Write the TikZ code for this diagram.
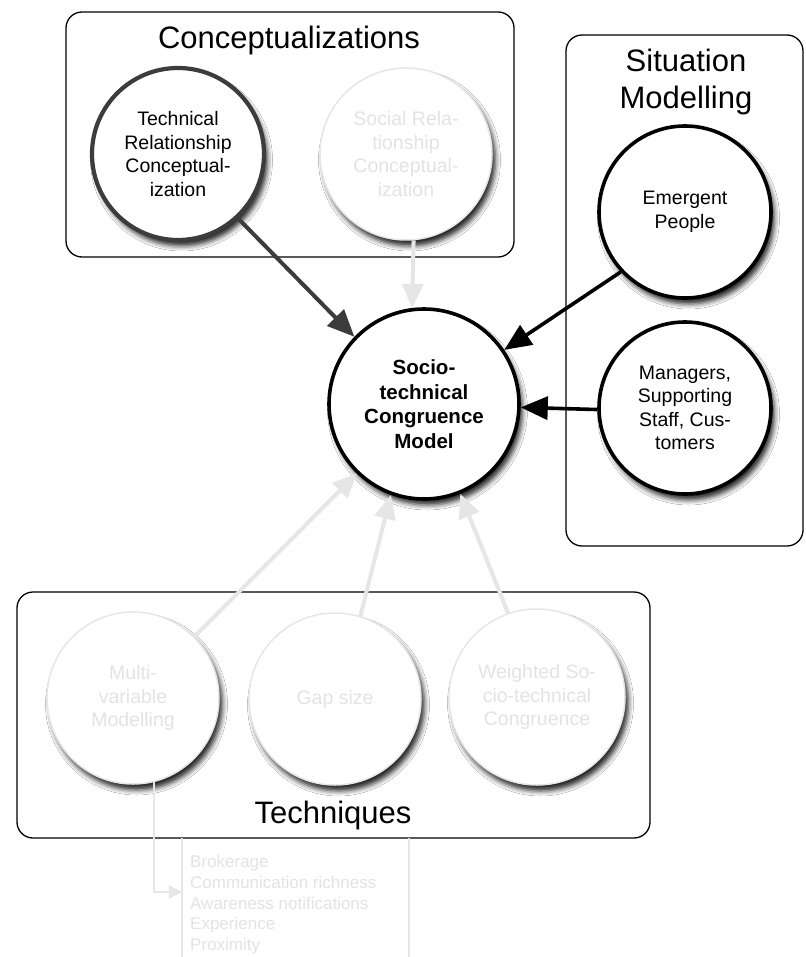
\documentclass[tikz,border=0pt]{standalone}
\usepackage{fontspec}
\setmainfont{Liberation Sans}
\usetikzlibrary{arrows.meta,shadows.blur}
\definecolor{faint}{HTML}{E6E6E6}
\definecolor{fainttext}{HTML}{E3E3E3}
\definecolor{darkline}{HTML}{3C3C3C}
\begin{document}
\begin{tikzpicture}[x=1pt,y=-1pt,
  groupbox/.style={draw=black, line width=1.3pt, rounded corners=16pt},
  boxtitle/.style={font=\fontsize{31}{37}\selectfont, align=center, inner sep=0pt},
  circ/.style={circle, minimum size=172pt, inner sep=0pt, fill=white, align=center,
    font=\fontsize{19.5}{23.5}\selectfont,
    blur shadow={shadow xshift=3.5pt, shadow yshift=-6pt, shadow blur radius=5pt, shadow opacity=85}},
  strongc/.style={circ, draw=black, line width=3.6pt},
  darkc/.style={circ, draw=darkline, line width=4.2pt},
  faintc/.style={circ, draw=faint, line width=1.5pt, text=fainttext},
  darkarrow/.style={draw=darkline, line width=4pt, -{Triangle[length=27pt,width=23pt]}},
  blackarrow/.style={draw=black, line width=3.6pt, -{Triangle[length=27pt,width=23pt]}},
  faintarrow/.style={draw=faint, line width=4pt, -{Triangle[length=24pt,width=21pt]}},
  thinfaint/.style={draw=faint, line width=2.5pt, -{Triangle[length=13pt,width=13pt]}},
  listline/.style={draw=faint, line width=1.2pt}
]
\useasboundingbox[fill=white] (0,0) rectangle (805,957);

% group boxes
\draw[groupbox] (66,12) rectangle (514,257);
\node[boxtitle] (conctitle) at (289,40) {Conceptualizations};
\draw[groupbox] (566,35) rectangle (803,546);
\node[boxtitle] (sittitle) at (686,82) {Situation\\Modelling};
\draw[groupbox] (17,592) rectangle (650,838);
\node[boxtitle, anchor=base] (techtitle) at (333,823) {Techniques};

% circles
\node[darkc] (tech) at (178,154) {Technical\\Relationship\\Conceptual-\\ization};
\node[faintc] (social) at (406,154) {Social Rela-\\tionship\\Conceptual-\\ization};
\node[strongc] (emergent) at (685,212) {Emergent\\People};
\node[strongc] (managers) at (685,408) {Managers,\\Supporting\\Staff, Cus-\\tomers};
\node[strongc, minimum size=190pt, font=\fontsize{20.5}{24.5}\selectfont\bfseries] (center) at (424,404) {Socio-\\technical\\Congruence\\Model};
\node[faintc] (multi) at (133,698) {Multi-\\variable\\Modelling};
\node[faintc] (gap) at (335,699) {Gap size};
\node[faintc, minimum size=176pt] (weighted) at (537,697) {Weighted So-\\cio-technical\\Congruence};

% list
\draw[listline] (182,838) -- (182,957);
\draw[listline] (409,838) -- (409,957);
\node[anchor=north west, inner sep=0pt, align=left, text=fainttext,
  font=\fontsize{17}{20.8}\selectfont] (list) at (190,855)
  {Brokerage\\Communication richness\\Awareness notifications\\Experience\\Proximity};
\coordinate (listin) at (182,892);

% connectors
\draw[darkarrow] (tech.-47) -- (center.136);
\draw[faintarrow] (social.-85) -- (center.97);
\draw[blackarrow] (emergent.223) -- (center.34);
\draw[blackarrow] (managers.181) -- (center.-2);
\draw[faintarrow] (multi.45) -- (center.226);
\draw[faintarrow] (gap.73) -- (center.250);
\draw[faintarrow] (weighted.109) -- (center.292);
\draw[thinfaint] (multi.-76) |- (listin);
\end{tikzpicture}
\end{document}
